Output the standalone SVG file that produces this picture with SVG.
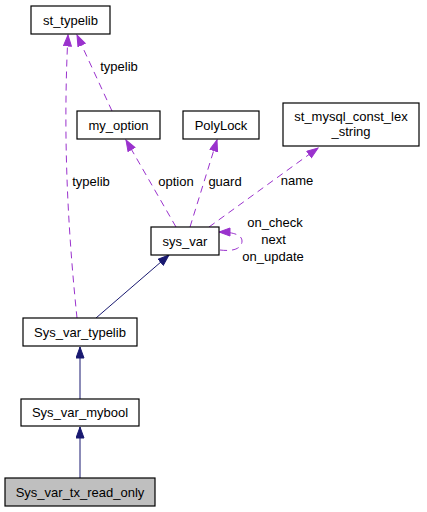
<svg xmlns="http://www.w3.org/2000/svg" width="427" height="512" viewBox="0 0 427 512">
<style>
.node rect{fill:#ffffff;stroke:#000000;stroke-width:1.2}
.node text,.lbl{font-family:"Liberation Sans",Arial,sans-serif;font-size:13px;fill:#000000;text-anchor:middle}
.inh{fill:none;stroke:#191970;stroke-width:1}
.use{fill:none;stroke:#9a32cd;stroke-width:1;stroke-dasharray:7,5}
</style>
<defs>
<marker id="an" markerUnits="userSpaceOnUse" markerWidth="13" markerHeight="10" refX="11.5" refY="4.5" orient="auto">
<path d="M0.5,0.5 L11.5,4.5 L0.5,8.5 z" fill="#191970" stroke="#191970" stroke-width="1"/>
</marker>
<marker id="ap" markerUnits="userSpaceOnUse" markerWidth="13" markerHeight="10" refX="11.5" refY="4.5" orient="auto">
<path d="M0.5,0.5 L11.5,4.5 L0.5,8.5 z" fill="#9a32cd" stroke="#9a32cd" stroke-width="1"/>
</marker>
</defs>
<rect x="0" y="0" width="427" height="512" fill="#ffffff"/>
<g id="edges">
<path class="inh" d="M80,478 L80,427" marker-end="url(#an)"/>
<path class="inh" d="M80,399 L80,347" marker-end="url(#an)"/>
<path class="inh" d="M96,318 L169,255" marker-end="url(#an)"/>
<path class="use" d="M77,318 C70,250 62,150 68,35" marker-end="url(#ap)"/>
<path class="use" d="M112,111 L77,35" marker-end="url(#ap)"/>
<path class="use" d="M176,227 L126,140" marker-end="url(#ap)"/>
<path class="use" d="M190,227 L217,140" marker-end="url(#ap)"/>
<path class="use" d="M209,227 L318,148" marker-end="url(#ap)"/>
<path class="use" d="M220,250 C236,252 242,247 242,241 C242,236 236,232 219,232" marker-end="url(#ap)"/>
<text class="lbl" x="119" y="71">typelib</text>
<text class="lbl" x="91" y="186">typelib</text>
<text class="lbl" x="176" y="186">option</text>
<text class="lbl" x="225" y="186">guard</text>
<text class="lbl" x="297" y="185">name</text>
<text class="lbl" x="275" y="227">on_check</text>
<text class="lbl" x="273.5" y="244">next</text>
<text class="lbl" x="273" y="261">on_update</text>
</g>
<g id="st_typelib" class="node">
<rect x="31" y="6" width="79" height="28"/>
<text x="70.5" y="24.5">st_typelib</text>
</g>
<g id="my_option" class="node">
<rect x="77" y="111" width="83" height="28"/>
<text x="118.5" y="129.5">my_option</text>
</g>
<g id="PolyLock" class="node">
<rect x="183" y="111" width="76" height="28"/>
<text x="221" y="129.5">PolyLock</text>
</g>
<g id="st_mysql_const_lex_string" class="node">
<rect x="283" y="103" width="136" height="43"/>
<text x="351" y="120.5">st_mysql_const_lex</text>
<text x="351" y="136">_string</text>
</g>
<g id="sys_var" class="node">
<rect x="151" y="227" width="68" height="28"/>
<text x="185" y="245.5">sys_var</text>
</g>
<g id="Sys_var_typelib" class="node">
<rect x="23" y="318" width="114" height="28"/>
<text x="80" y="336.5">Sys_var_typelib</text>
</g>
<g id="Sys_var_mybool" class="node">
<rect x="21" y="399" width="118" height="27"/>
<text x="80" y="417">Sys_var_mybool</text>
</g>
<g id="Sys_var_tx_read_only" class="node">
<rect x="5" y="478" width="150" height="28" style="fill:#bfbfbf"/>
<text x="80" y="496.5">Sys_var_tx_read_only</text>
</g>
</svg>
